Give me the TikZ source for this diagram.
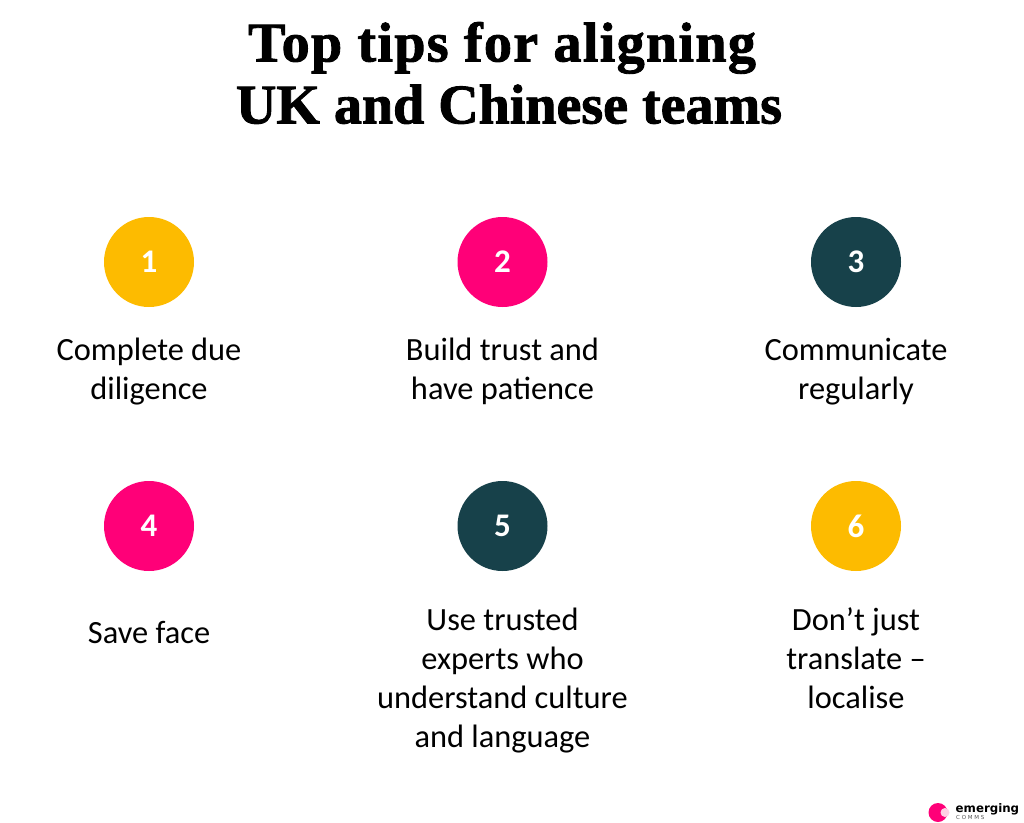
\documentclass[tikz,border=0pt]{standalone}
\usepackage{fontspec}
\setmainfont{Carlito}
\newfontfamily\titlefont[FakeBold=1.6]{Liberation Serif}
\newfontfamily\titlefontwide[FakeBold=1.6,LetterSpace=2.4]{Liberation Serif}
\newfontfamily\logofont{DejaVu Sans}
\definecolor{cyel}{HTML}{FDBB00}
\definecolor{cpink}{HTML}{FF0078}
\definecolor{cteal}{HTML}{17414A}
\definecolor{cfade}{HTML}{FFD0E4}
\definecolor{cgrey}{HTML}{555555}
\tikzset{x=1pt,y=-1pt,
 tipdisc/.style={circle,minimum size=90pt,inner sep=0pt,text=white,font=\fontsize{33}{33}\selectfont\bfseries},
 tiptext/.style={align=center,text=black,font=\fontsize{32.4}{39}\selectfont,inner sep=0pt,anchor=center},
 titletext/.style={align=center,text=black,font=\titlefont\fontsize{56}{62}\bfseries\selectfont,inner sep=0pt}}
\begin{document}
\begin{tikzpicture}
\useasboundingbox (0,0) rectangle (1024,822);
\node[titletext] (title) at (509,73) {{\titlefontwide\bfseries Top tips for aligning}\hspace*{14pt}\\UK and Chinese teams};
\node[tipdisc,fill=cyel] (d1) at (149,262) {1};
\node[tipdisc,fill=cpink] (d2) at (502.5,262) {2};
\node[tipdisc,fill=cteal] (d3) at (856,262) {3};
\node[tipdisc,fill=cpink] (d4) at (149,526) {4};
\node[tipdisc,fill=cteal] (d5) at (502.5,526) {5};
\node[tipdisc,fill=cyel] (d6) at (856,526) {6};
\node[tiptext] (t1) at (149,372) {Complete due\\diligence};
\node[tiptext] (t2) at (502.5,371) {Build trust and\\have patience};
\node[tiptext] (t3) at (856,372) {Communicate\\regularly};
\node[tiptext] (t4) at (149,633) {Save face};
\node[tiptext] (t5) at (502.5,681) {Use trusted\\experts who\\understand culture\\and language};
\node[tiptext] (t6) at (856,658.5) {Don’t just\\translate –\\localise};
\fill[cpink] (938,812.5) circle (9.5);
\fill[cfade] (945,812.5) circle (4.5);
\node[anchor=west,inner sep=0pt,font=\logofont\fontsize{11.8}{11.8}\selectfont\bfseries] (logo) at (955.5,809) {emerging};
\node[anchor=west,inner sep=0pt,text=cgrey,font=\logofont\fontsize{5.5}{5.5}\selectfont] (logo2) at (956,817.5) {C O M M S};
\end{tikzpicture}
\end{document}
